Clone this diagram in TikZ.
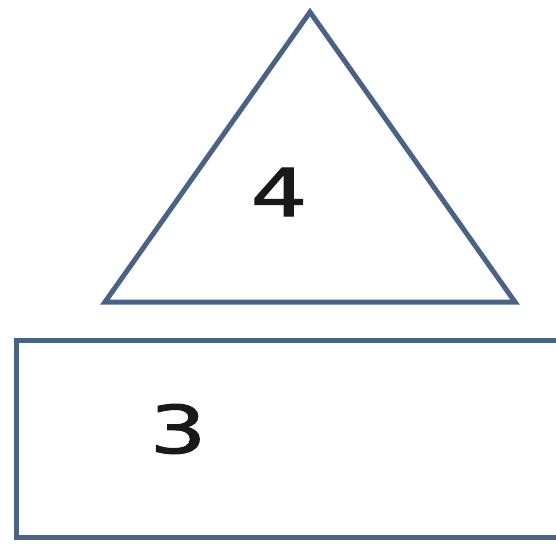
\documentclass[tikz,border=0pt]{standalone}
\usepackage{fontspec}
\setmainfont{DejaVu Sans}
\newfontfamily\digitfont[FakeBold=1.5]{DejaVu Sans}
\definecolor{edge}{RGB}{74,98,131}
\newcommand{\widedigit}[1]{\scalebox{1.35}[1]{#1}}
\begin{document}
\begin{tikzpicture}[x=1pt,y=-1pt,
  shapeline/.style={draw=edge,line width=5pt,line join=miter},
  digit/.style={font=\digitfont\fontsize{66}{66}\selectfont,text=black!90,inner sep=0pt}]
\useasboundingbox (0,0) rectangle (556,543);
\coordinate (apex) at (310,12);
\coordinate (bl) at (105,302);
\coordinate (br) at (515,302);
\draw[shapeline] (apex) -- (bl) -- (br) -- cycle;
\draw[shapeline] (16,340) rectangle (575,537);
\node[digit] (four) at (279,192) {\widedigit{4}};
\node[digit] (three) at (178,429) {\widedigit{3}};
\end{tikzpicture}
\end{document}
